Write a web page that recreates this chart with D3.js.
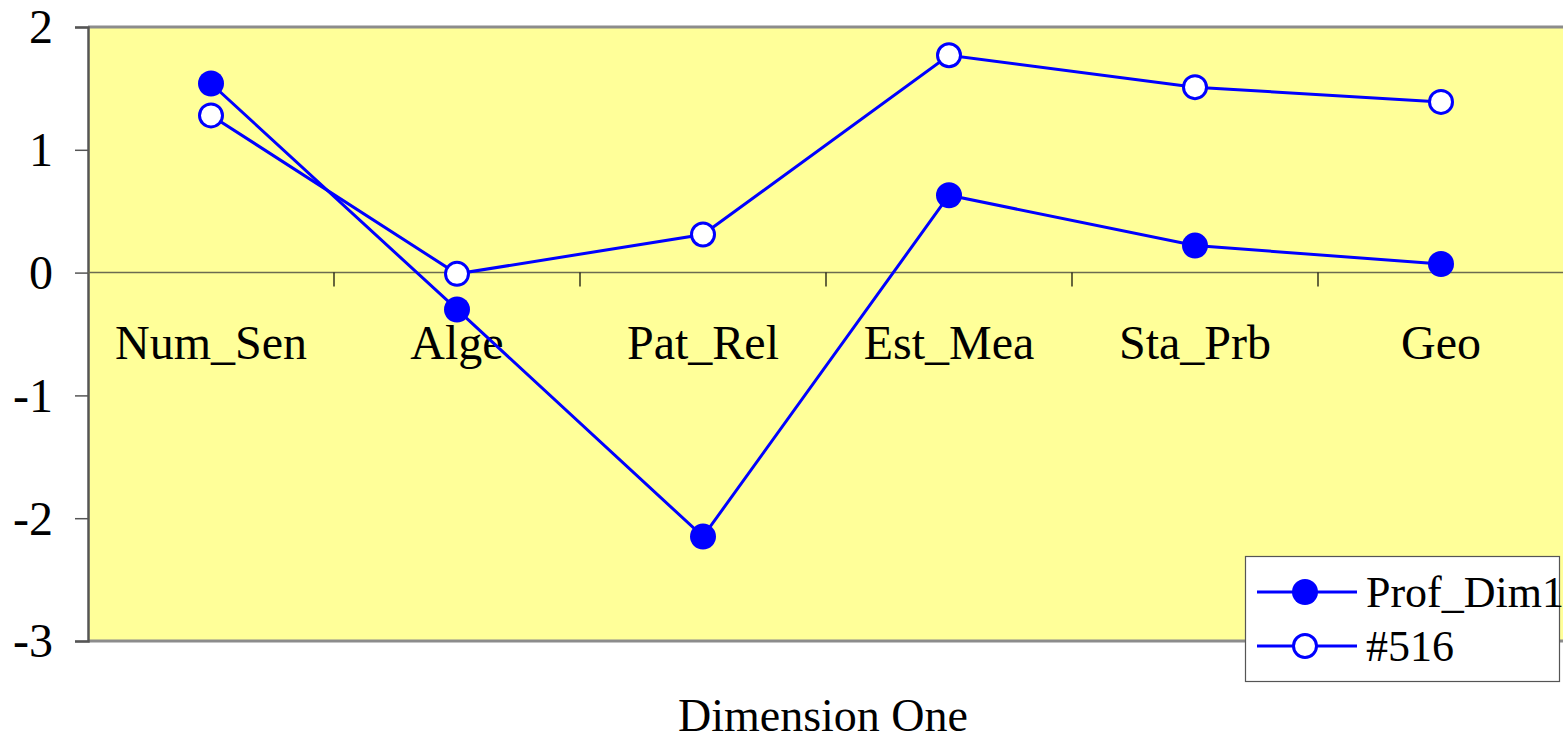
<!DOCTYPE html>
<html>
<head>
<meta charset="utf-8">
<script src="https://cdn.jsdelivr.net/npm/d3@7"></script>
<style>
  html, body { margin: 0; padding: 0; background: #ffffff; }
  svg { display: block; }
  text { font-family: "Liberation Serif", "Times New Roman", serif; fill: #000; }
</style>
</head>
<body>
<svg id="chart" width="1563" height="742"></svg>
<script>
// Profile scores on dimension one
const categories = ["Num_Sen", "Alge", "Pat_Rel", "Est_Mea", "Sta_Prb", "Geo"];
const profDim1 = [1.54, -0.30, -2.15, 0.63, 0.22, 0.07];
const case516 = [1.28, -0.01, 0.31, 1.77, 1.51, 1.39];
const yTicks = [2, 1, 0, -1, -2, -3];
const seriesNames = ["Prof_Dim1", "#516"];

const svg = d3.select("#chart");
const plot = { left: 88, right: 1564, top: 27, bottom: 641 };

const x = d3.scaleBand().domain(categories).range([plot.left, plot.right]).padding(0);
const cx = c => x(c) + x.bandwidth() / 2;
const y = d3.scaleLinear().domain([-3, 2]).range([plot.bottom, plot.top]);

// plot area background
svg.append("rect")
  .attr("x", plot.left).attr("y", plot.top)
  .attr("width", plot.right - plot.left).attr("height", plot.bottom - plot.top)
  .attr("fill", "#ffff99");

// frame: gray top and bottom edges, dark left axis
svg.append("line").attr("x1", plot.left).attr("x2", plot.right)
  .attr("y1", plot.top).attr("y2", plot.top)
  .attr("stroke", "#8c8c8c").attr("stroke-width", 3);
svg.append("line").attr("x1", plot.left).attr("x2", plot.right)
  .attr("y1", plot.bottom).attr("y2", plot.bottom)
  .attr("stroke", "#8c8c8c").attr("stroke-width", 3);

// y axis
const yAxis = d3.axisLeft(y).tickValues(yTicks).tickSize(13).tickPadding(22)
  .tickFormat(d3.format("d"));
const gy = svg.append("g").attr("transform", `translate(${plot.left},0)`).call(yAxis);
gy.select(".domain").attr("stroke", "#555").attr("stroke-width", 2.5);
gy.selectAll(".tick line").attr("stroke", "#555").attr("stroke-width", 1.5);
gy.selectAll(".tick text")
  .style("font-family", "Liberation Serif, serif")
  .style("font-size", "48px")
  .attr("fill", "#000")
  .attr("dy", "0.33em")
  .text(d => d < 0 ? "-" + Math.abs(d) : d);

// zero line
svg.append("line")
  .attr("x1", plot.left).attr("x2", plot.right)
  .attr("y1", y(0)).attr("y2", y(0))
  .attr("stroke", "#6b6b50").attr("stroke-width", 1.5);

// category boundary ticks on the zero line
const boundaries = categories.slice(1).map(c => x(c));
svg.append("g").selectAll("line").data(boundaries).join("line")
  .attr("x1", d => d).attr("x2", d => d)
  .attr("y1", y(0)).attr("y2", y(0) + 14)
  .attr("stroke", "#000").attr("stroke-width", 1.2);

// category labels
svg.append("g").selectAll("text").data(categories).join("text")
  .attr("x", d => cx(d)).attr("y", 359)
  .attr("text-anchor", "middle")
  .style("font-size", "48px")
  .text(d => d);

// series lines and markers
const line = d3.line().x((d, i) => cx(categories[i])).y(d => y(d));
const blue = "#0000ff";

function drawSeries(values, filled) {
  svg.append("path").datum(values)
    .attr("d", line).attr("fill", "none")
    .attr("stroke", blue).attr("stroke-width", 3);
  svg.append("g").selectAll("circle").data(values).join("circle")
    .attr("cx", (d, i) => cx(categories[i])).attr("cy", d => y(d))
    .attr("r", filled ? 13 : 11.5)
    .attr("fill", filled ? blue : "#ffffff")
    .attr("stroke", blue).attr("stroke-width", filled ? 0 : 3);
}
drawSeries(profDim1, true);
drawSeries(case516, false);

// legend
const legend = svg.append("g");
legend.append("rect")
  .attr("x", 1245.5).attr("y", 556.5).attr("width", 314).attr("height", 125)
  .attr("fill", "#ffffff").attr("stroke", "#555").attr("stroke-width", 1.2);
const legendRows = [
  { name: seriesNames[0], filled: true, y: 592 },
  { name: seriesNames[1], filled: false, y: 646 }
];
legendRows.forEach(r => {
  legend.append("line")
    .attr("x1", 1257).attr("x2", 1357).attr("y1", r.y).attr("y2", r.y)
    .attr("stroke", blue).attr("stroke-width", 3);
  legend.append("circle")
    .attr("cx", 1305).attr("cy", r.y).attr("r", r.filled ? 13 : 11.5)
    .attr("fill", r.filled ? blue : "#ffffff")
    .attr("stroke", blue).attr("stroke-width", r.filled ? 0 : 3);
  legend.append("text")
    .attr("x", 1366).attr("y", r.y + 15)
    .style("font-size", "44px")
    .text(r.name);
});

// x axis title
svg.append("text")
  .attr("x", 823).attr("y", 731)
  .attr("text-anchor", "middle")
  .style("font-size", "46px")
  .text("Dimension One");
</script>
</body>
</html>
